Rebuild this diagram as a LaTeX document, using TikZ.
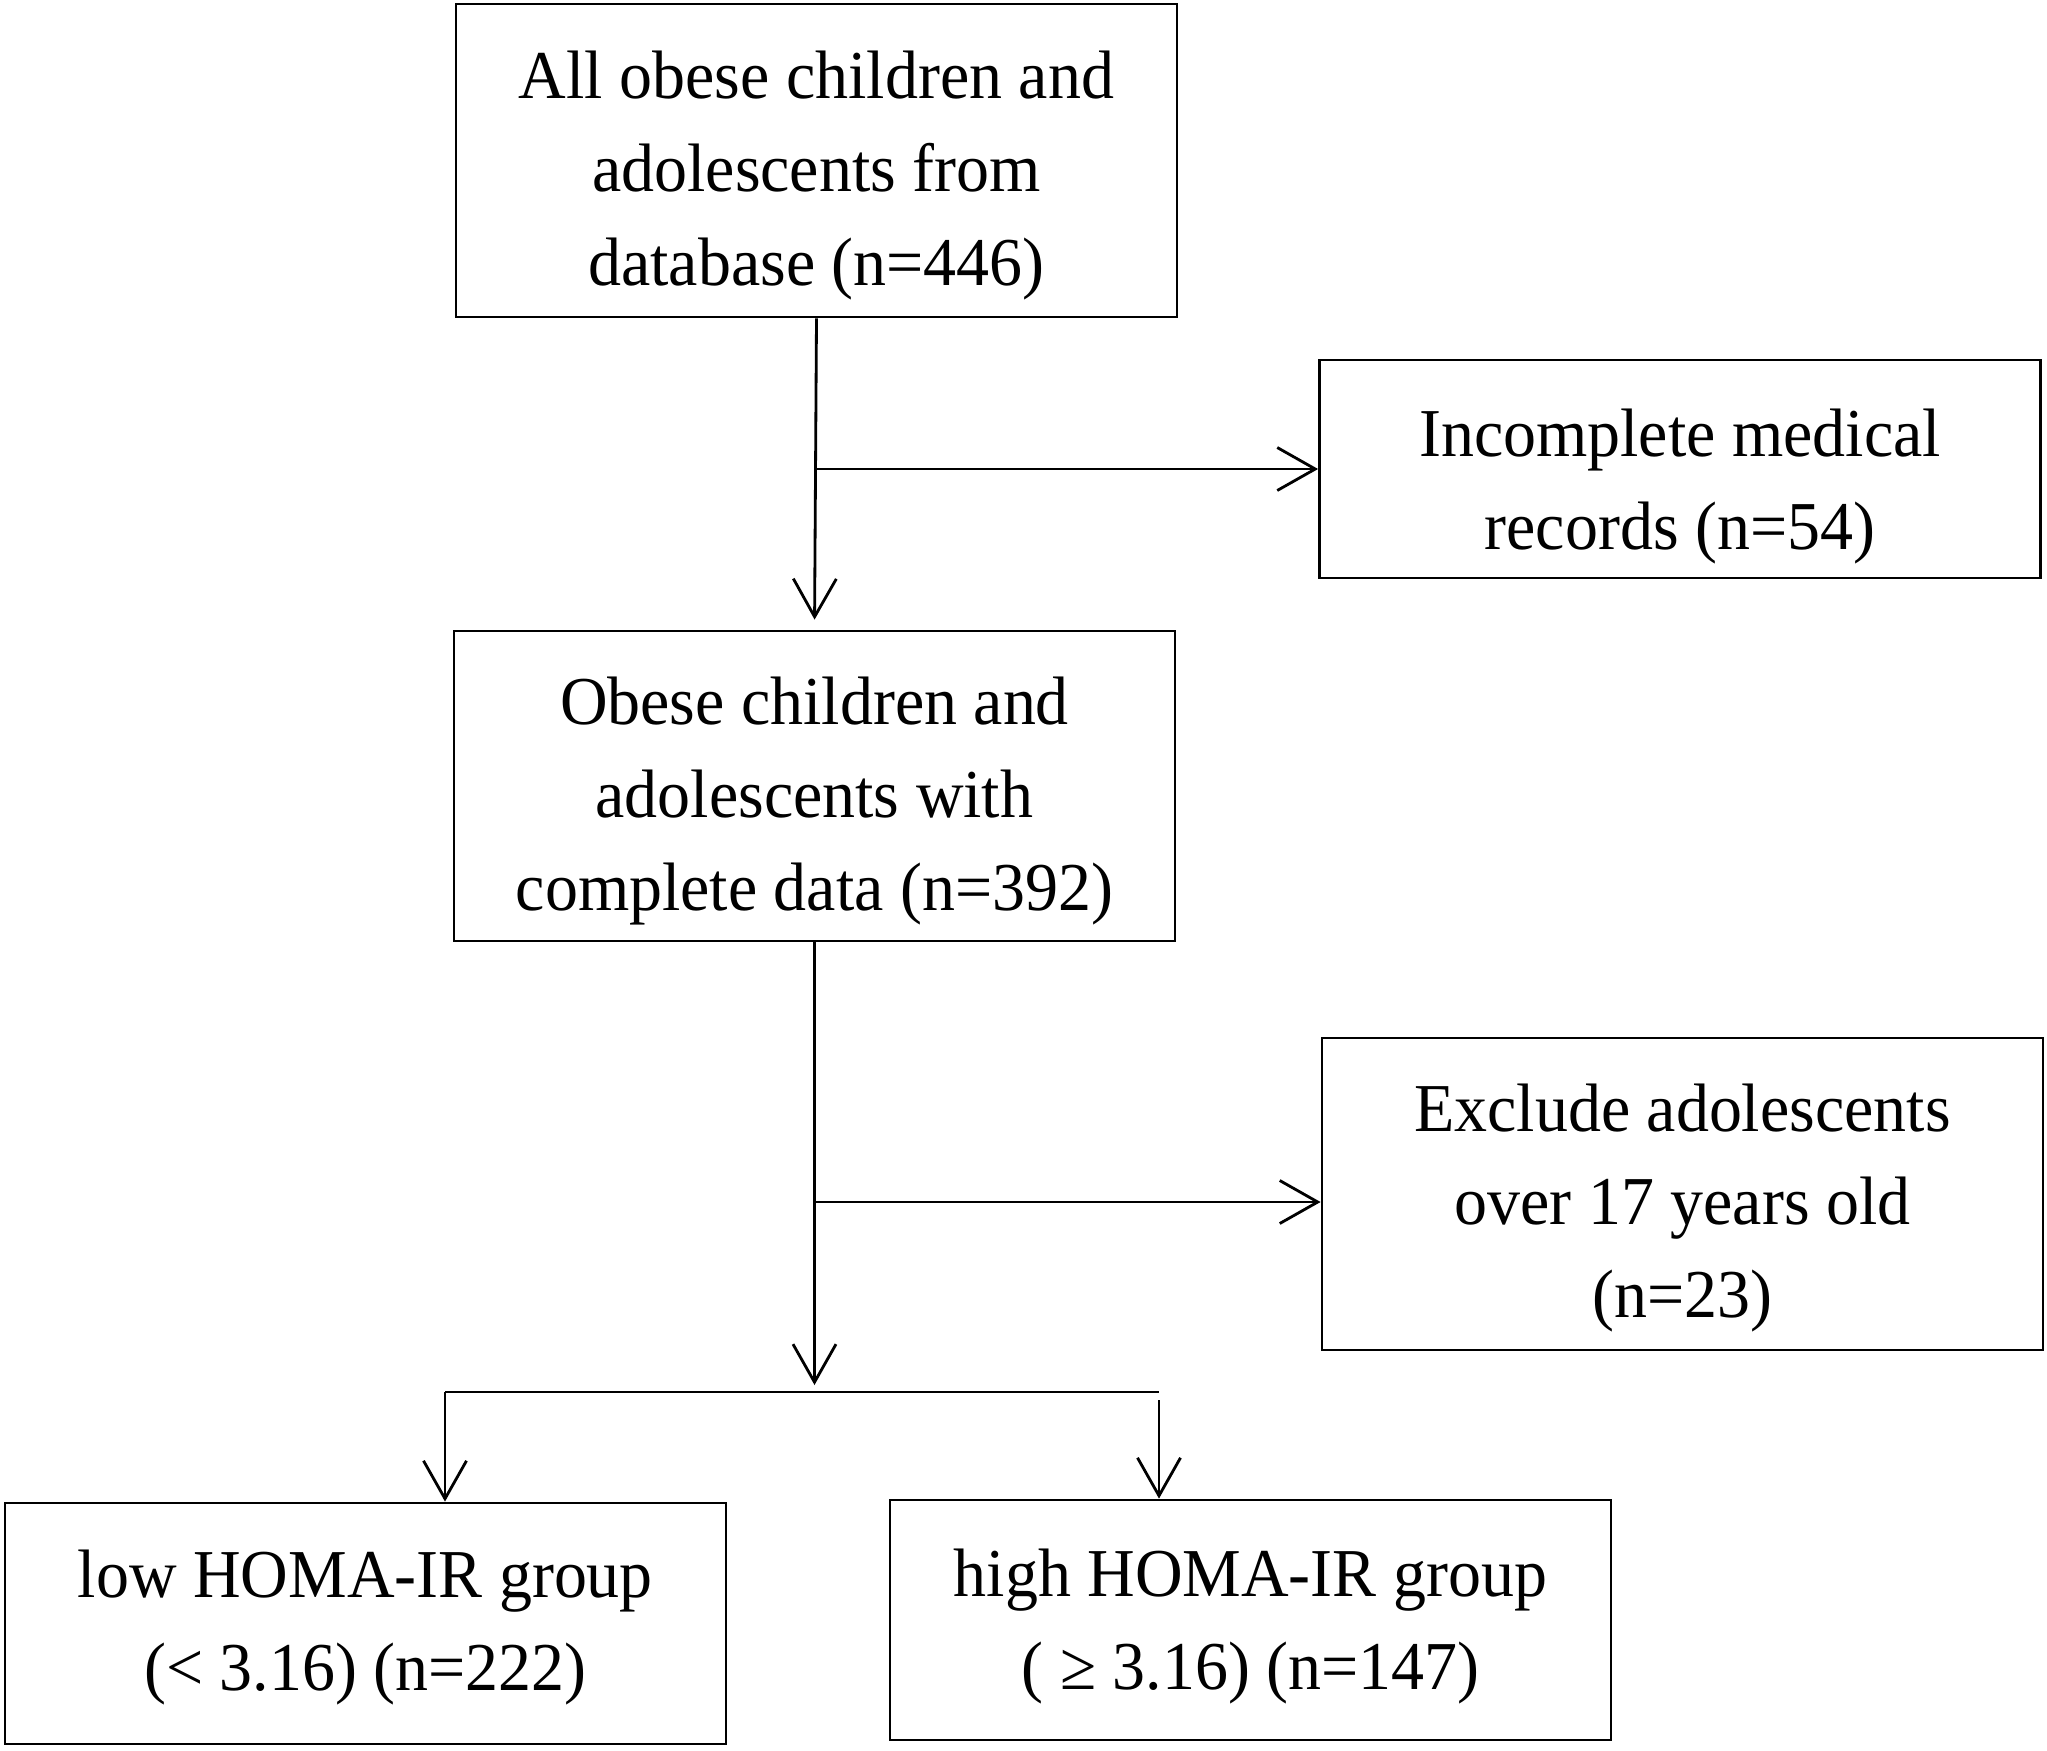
\documentclass[tikz,border=0pt]{standalone}
\usepackage{fontspec}
\setmainfont{Liberation Serif}[FakeStretch=0.962]
\usetikzlibrary{arrows.meta}
\begin{document}
\begin{tikzpicture}[x=0.1mm,y=-0.1mm,
        box/.style={draw,line width=0.8pt,minimum width=72.1mm,align=center,inner sep=0pt,
            font=\fontsize{19.5}{26.5}\selectfont},
        lowered/.style={text depth=0pt,text height=#1},
        arr/.style={line width=0.8pt,-{Straight Barb[length=3.8mm,width=4.3mm]}}]
        \useasboundingbox (0,0) rectangle (2047,1750);
        \node[box,lowered=24.9mm,minimum height=31.3mm] (all) at (816.5,160.5) {All obese children and\\adolescents from\\database (n=446)};
        \node[box,lowered=16.1mm,minimum height=21.8mm] (incomplete) at (1680,469) {Incomplete medical\\records (n=54)};
        \node[box,lowered=24.9mm,minimum height=31mm] (complete) at (814.5,786) {Obese children and\\adolescents with\\complete data (n=392)};
        \node[box,lowered=24.7mm,minimum height=31.2mm] (exclude) at (1682.5,1194) {Exclude adolescents\\over 17 years old\\(n=23)};
        \node[box,text depth=0.6mm,minimum height=24.1mm] (low) at (365.5,1623.5) {low HOMA-IR group\\(< 3.16) (n=222)};
        \node[box,text depth=0.2mm,minimum height=24mm] (high) at (1250.5,1620) {high HOMA-IR group\\( ≥ 3.16) (n=147)};
        \coordinate (split1) at (all.south |- incomplete.west);
        \coordinate (split2) at (815,1202);
        \coordinate (left) at (445,1392);
        \coordinate (right) at (1159,1392);
        \draw[arr,shorten >=1mm] (all.south) -- (complete.north);
        \draw[arr] (split1) -- (incomplete.west);
        \draw[arr,shorten >=0.7mm] (complete.south) -- (complete.south |- left);
        \draw[arr] (split2) -- (exclude.west |- split2);
        \draw[line width=0.8pt] (left) -- (right);
        \draw[arr] (left) -- (left |- low.north);
        \draw[arr] ([yshift=-0.8mm]right) -- (right |- high.north);
\end{tikzpicture}
\end{document}
